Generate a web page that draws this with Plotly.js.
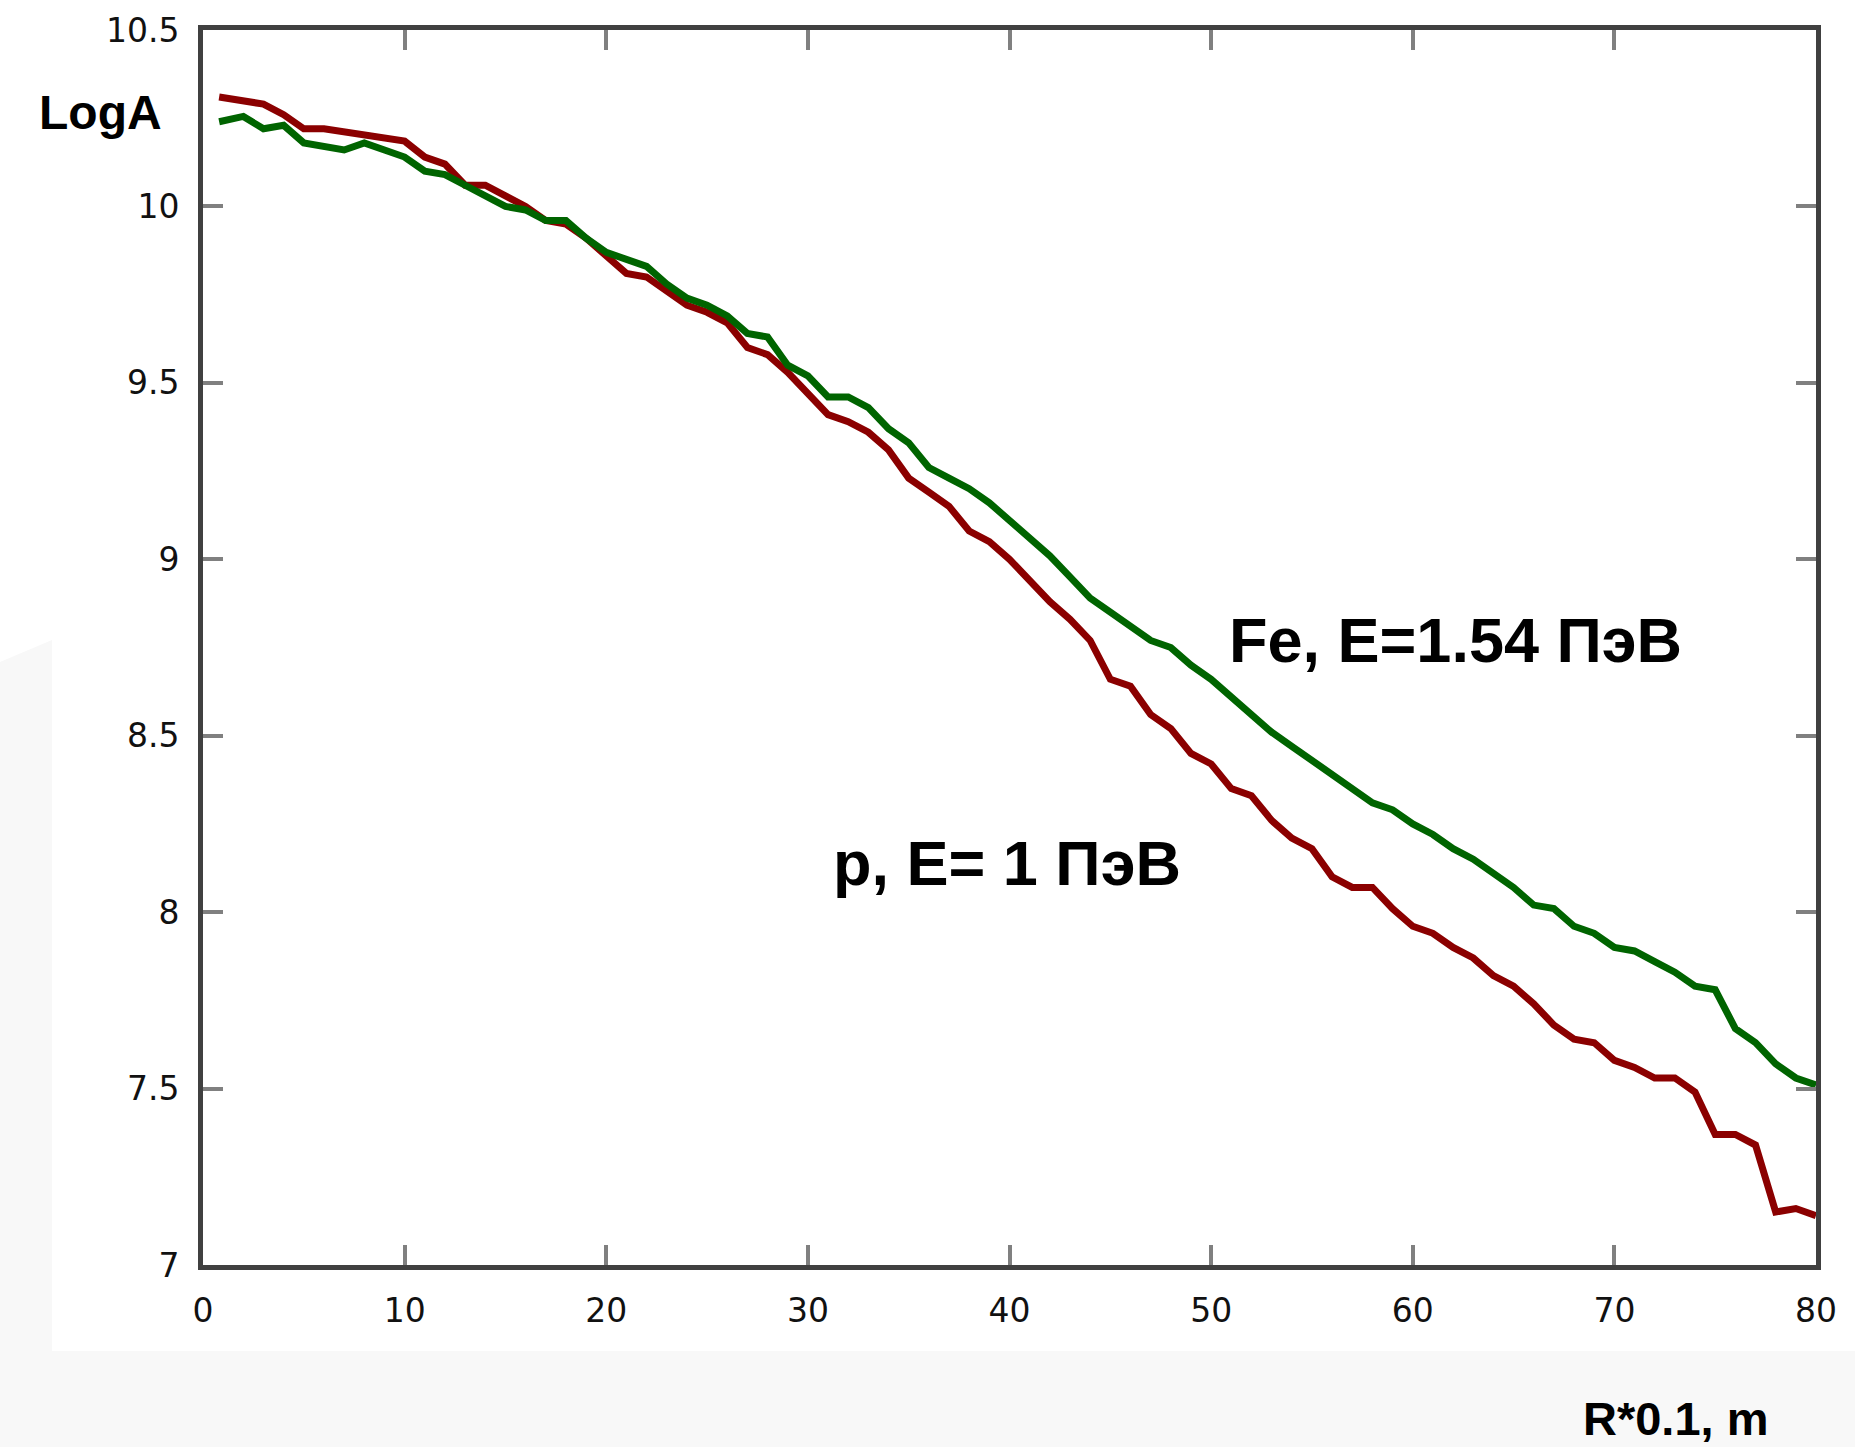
<!DOCTYPE html>
<html>
<head>
<meta charset="utf-8">
<script src="https://cdn.plot.ly/plotly-3.0.1.min.js"></script>
<style>html,body{margin:0;padding:0;background:#fff;}#chart{width:1855px;height:1447px;}</style>
</head>
<body>
<div id="chart"></div>
<script>
// Radius values (R*0.1, m)
const rValues = [0.8, 2, 3, 4, 5, 6, 7, 8, 9, 10, 11, 12, 13, 14, 15, 16, 17, 18, 19, 20,
  21, 22, 23, 24, 25, 26, 27, 28, 29, 30, 31, 32, 33, 34, 35, 36, 37, 38, 39, 40,
  41, 42, 43, 44, 45, 46, 47, 48, 49, 50, 51, 52, 53, 54, 55, 56, 57, 58, 59, 60,
  61, 62, 63, 64, 65, 66, 67, 68, 69, 70, 71, 72, 73, 74, 75, 76, 77, 78, 79, 80];

// p, E = 1 PeV
const logA_p = [10.31, 10.30, 10.29, 10.26, 10.22, 10.22, 10.21, 10.20, 10.19, 10.185,
  10.14, 10.12, 10.06, 10.06, 10.03, 10.00, 9.96, 9.95, 9.91, 9.86,
  9.81, 9.80, 9.76, 9.72, 9.70, 9.67, 9.60, 9.58, 9.53, 9.47,
  9.41, 9.39, 9.36, 9.31, 9.23, 9.19, 9.15, 9.08, 9.05, 9.00,
  8.94, 8.88, 8.83, 8.77, 8.66, 8.64, 8.56, 8.52, 8.45, 8.42,
  8.35, 8.33, 8.26, 8.21, 8.18, 8.10, 8.07, 8.07, 8.01, 7.96,
  7.94, 7.90, 7.87, 7.82, 7.79, 7.74, 7.68, 7.64, 7.63, 7.58,
  7.56, 7.53, 7.53, 7.49, 7.37, 7.37, 7.34, 7.15, 7.16, 7.14];

// Fe, E = 1.54 PeV
const logA_fe = [10.24, 10.255, 10.22, 10.23, 10.18, 10.17, 10.16, 10.18, 10.16, 10.14,
  10.10, 10.09, 10.06, 10.03, 10.00, 9.99, 9.96, 9.96, 9.91, 9.87,
  9.85, 9.83, 9.78, 9.74, 9.72, 9.69, 9.64, 9.63, 9.55, 9.52,
  9.46, 9.46, 9.43, 9.37, 9.33, 9.26, 9.23, 9.20, 9.16, 9.11,
  9.06, 9.01, 8.95, 8.89, 8.85, 8.81, 8.77, 8.75, 8.70, 8.66,
  8.61, 8.56, 8.51, 8.47, 8.43, 8.39, 8.35, 8.31, 8.29, 8.25,
  8.22, 8.18, 8.15, 8.11, 8.07, 8.02, 8.01, 7.96, 7.94, 7.90,
  7.89, 7.86, 7.83, 7.79, 7.78, 7.67, 7.63, 7.57, 7.53, 7.51];

const xTickVals = [0, 10, 20, 30, 40, 50, 60, 70, 80];
const xTickText = ["0", "10", "20", "30", "40", "50", "60", "70", "80"];
const yTickVals = [7, 7.5, 8, 8.5, 9, 9.5, 10, 10.5];
const yTickText = ["7", "7.5", "8", "8.5", "9", "9.5", "10", "10.5"];

const labelP = "p, E= 1 ПэВ";
const labelFe = "Fe, E=1.54 ПэВ";
const yLabel = "LogA";
const xLabel = "R*0.1, m";

const traces = [
  {x: rValues, y: logA_p, type: 'scatter', mode: 'lines', name: labelP,
   line: {color: '#8b0000', width: 7}},
  {x: rValues, y: logA_fe, type: 'scatter', mode: 'lines', name: labelFe,
   line: {color: '#006400', width: 7}}
];

const tickFont = {family: 'DejaVu Sans, sans-serif', size: 33, color: '#111'};
const boldFont = (s) => ({family: 'Liberation Sans, Arial, sans-serif', size: s, color: '#000', weight: 'bold'});

const axisCommon = {
  showgrid: false, zeroline: false,
  showline: true, linecolor: '#404040', linewidth: 5, mirror: 'allticks',
  ticks: 'inside', ticklen: 20, tickwidth: 4, tickcolor: '#808080',
  tickfont: tickFont, tickmode: 'array'
};

const layout = {
  width: 1855, height: 1447,
  margin: {l: 203, r: 39, t: 30, b: 182},
  paper_bgcolor: '#ffffff', plot_bgcolor: '#ffffff',
  showlegend: false,
  xaxis: Object.assign({}, axisCommon, {range: [0, 80], tickvals: xTickVals, ticktext: xTickText, ticklabelstandoff: 12}),
  yaxis: Object.assign({}, axisCommon, {range: [7, 10.5], tickvals: yTickVals, ticktext: yTickText, ticklabelstandoff: 12}),
  shapes: [
    {type: 'rect', xref: 'paper', yref: 'paper', x0: -0.13, x1: 1.03, y0: -0.0696, y1: -0.16,
     fillcolor: '#f8f8f8', line: {width: 0}, layer: 'below'},
    {type: 'path', xref: 'paper', yref: 'paper', layer: 'below',
     path: 'M -0.13 0.486 L -0.0936 0.506 L -0.0936 -0.0696 L -0.13 -0.0696 Z',
     fillcolor: '#f8f8f8', line: {width: 0}}
  ],
  annotations: [
    {text: yLabel, xref: 'paper', yref: 'paper', x: -0.103, y: 0.9328, xanchor: 'left', yanchor: 'middle',
     showarrow: false, font: boldFont(48)},
    {text: xLabel, xref: 'paper', yref: 'paper', x: 0.854, y: -0.124, xanchor: 'left', yanchor: 'middle',
     showarrow: false, font: boldFont(47)},
    {text: labelFe, xref: 'x', yref: 'y', x: 62.1, y: 8.77, xanchor: 'center', yanchor: 'middle',
     showarrow: false, font: boldFont(63)},
    {text: labelP, xref: 'x', yref: 'y', x: 39.9, y: 8.14, xanchor: 'center', yanchor: 'middle',
     showarrow: false, font: boldFont(63)}
  ]
};

Plotly.newPlot('chart', traces, layout, {displayModeBar: false, staticPlot: true});
</script>
</body>
</html>
